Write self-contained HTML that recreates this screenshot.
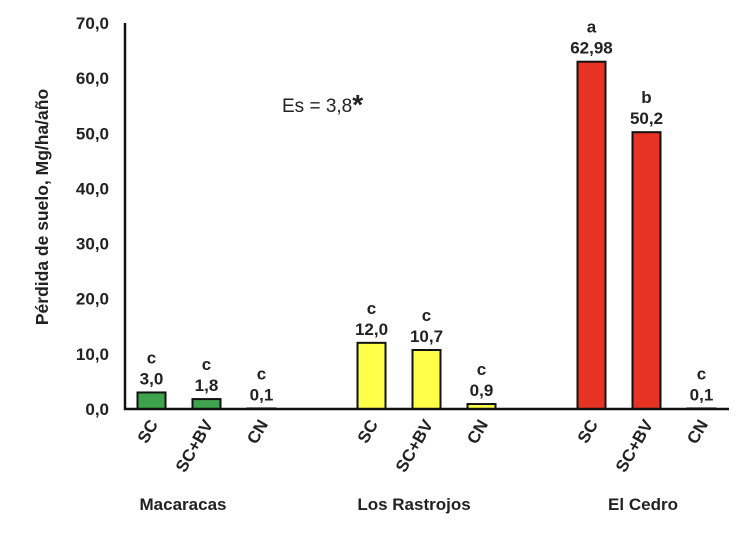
<!DOCTYPE html>
<html><head><meta charset="utf-8"><style>
body{margin:0;background:#fff;}
svg text{font-family:"Liberation Sans",Arial,sans-serif;font-weight:bold;fill:#222;}
</style></head><body>
<svg id="chart" width="750" height="551" viewBox="0 0 750 551" xmlns="http://www.w3.org/2000/svg">
<text x="48" y="207" font-size="17.5" text-anchor="middle" transform="rotate(-90 48 207)">Pérdida de suelo, Mg/ha/año</text>
<text x="282" y="112" font-size="19" style="font-weight:normal">Es = 3,8<tspan font-size="28" dy="2" font-weight="bold">*</tspan></text>
</svg>
<script>
const categories=["SC","SC+BV","CN","SC","SC+BV","CN","SC","SC+BV","CN"];
const values=[3.0,1.8,0.1,12.0,10.7,0.9,62.98,50.2,0.1];
const valueLabels=["3,0","1,8","0,1","12,0","10,7","0,9","62,98","50,2","0,1"];
const letters=["c","c","c","c","c","c","a","b","c"];
const colors=["#3fa24c","#3fa24c","#3fa24c","#ffff4a","#ffff4a","#ffff4a","#e63323","#e63323","#e63323"];
const slots=[0,1,2,4,5,6,8,9,10];
const groups=["Macaracas","Los Rastrojos","El Cedro"];
const yTicks=[0,10,20,30,40,50,60,70];
const yTickLabels=["0,0","10,0","20,0","30,0","40,0","50,0","60,0","70,0"];
const svg=document.getElementById('chart');
const NS="http://www.w3.org/2000/svg";
const x0=124,slotW=55,y0=409,yTop=23,yMax=70;
const y=v=>y0-(v/yMax)*(y0-yTop);
const xc=i=>x0+slotW*(i+0.5);
function mk(t,a){const e=document.createElementNS(NS,t);for(const k in a)e.setAttribute(k,a[k]);svg.appendChild(e);return e;}
yTicks.forEach((v,i)=>{const t=mk('text',{x:109,y:y(v)+6,'font-size':17,'text-anchor':'end'});t.textContent=yTickLabels[i];

});
values.forEach((v,i)=>{const cx=xc(slots[i]);
const r=mk('rect',{x:cx-14,y:y(v),width:28,height:y0-y(v),fill:colors[i],stroke:'#111','stroke-width':2});


const vt=mk('text',{x:cx,y:y(v)-8,'font-size':17,'text-anchor':'middle'});vt.textContent=valueLabels[i];


const lt=mk('text',{x:cx,y:y(v)-29,'font-size':17,'text-anchor':'middle'});lt.textContent=letters[i];


const ct=mk('text',{x:cx+7,y:424,'font-size':17,'text-anchor':'end',transform:`rotate(-60 ${cx+7} 424)`});ct.textContent=categories[i];

});
const ax=mk('path',{d:`M${x0+1} ${yTop} V${y0} H${x0+11*slotW}`,fill:'none',stroke:'#111','stroke-width':2.5});


const gx=[183,414,643];
groups.forEach((g,i)=>{const t=mk('text',{x:gx[i],y:510,'font-size':17,'text-anchor':'middle'});t.textContent=g;

});
</script>
</body></html>
